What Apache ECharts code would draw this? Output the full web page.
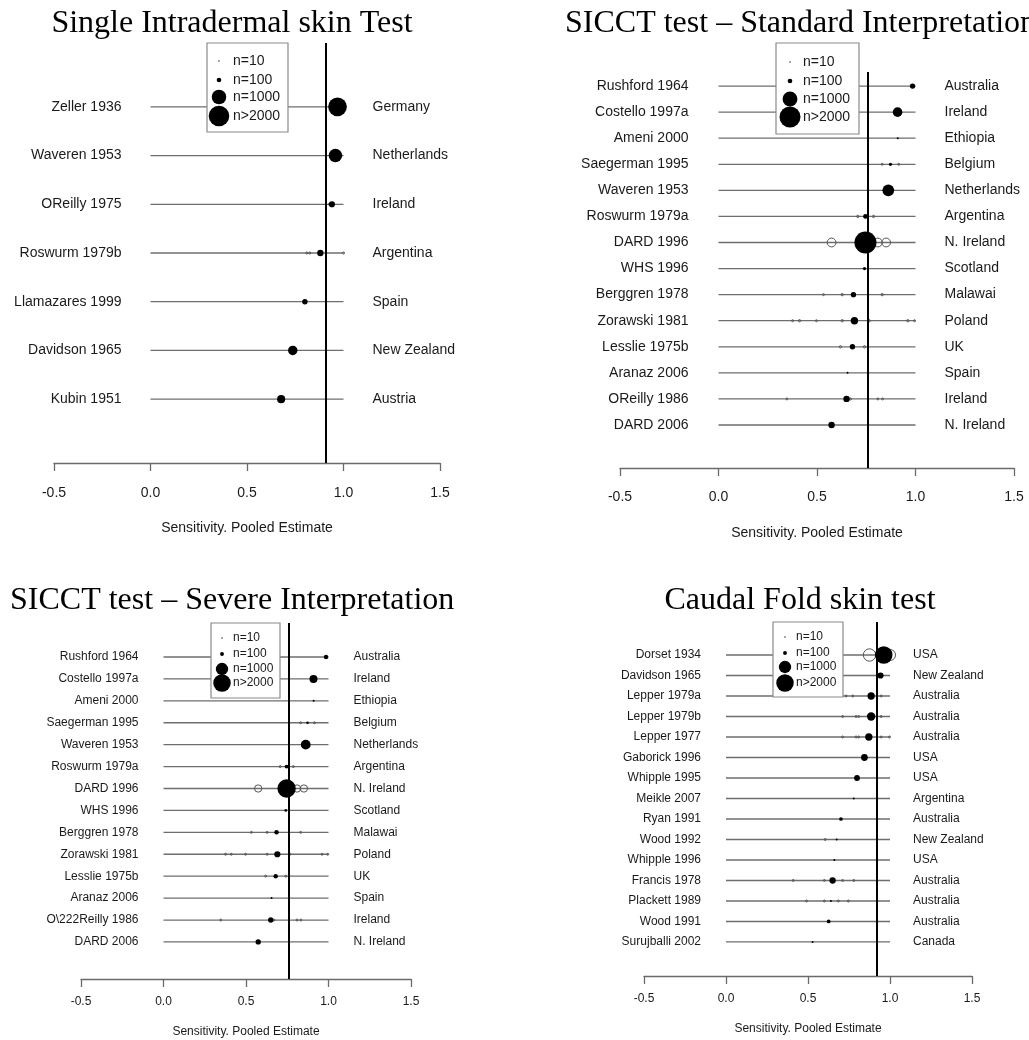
<!DOCTYPE html>
<html><head><meta charset="utf-8">
<script src="https://cdn.jsdelivr.net/npm/echarts@6/dist/echarts.min.js"></script>
<style>html,body{margin:0;padding:0;background:#fff}#c{width:1029px;height:1040px}</style>
</head><body><div id="c"></div>
<script>
// ---------------- DATA ----------------
const tickLabels = ['-0.5', '0.0', '0.5', '1.0', '1.5'];
const axisTitle = 'Sensitivity. Pooled Estimate';
const legendLabels = ['n=10', 'n=100', 'n=1000', 'n>2000'];
const legendN = [10, 100, 1000, 2000];

// Single Intradermal skin Test
const sitTitle = 'Single Intradermal skin Test';
const sitStudies = ['Zeller 1936', 'Waveren 1953', 'OReilly 1975', 'Roswurm 1979b', 'Llamazares 1999', 'Davidson 1965', 'Kubin 1951'];
const sitCountries = ['Germany', 'Netherlands', 'Ireland', 'Argentina', 'Spain', 'New Zealand', 'Austria'];
const sitEstimate = [0.969, 0.958, 0.94, 0.88, 0.80, 0.737, 0.677];
const sitN = [1650, 850, 180, 190, 140, 420, 310];
const sitSub = [[1, 0.985, 40], [2, 0.927, 20], [3, 0.81, 20], [3, 0.825, 20], [3, 1.0, 20]]; // [row, value, n]
const sitPooled = 0.905;

// SICCT (standard & severe)
const sicctStdTitle = 'SICCT test \u2013 Standard Interpretation';
const sicctSevTitle = 'SICCT test \u2013 Severe Interpretation';
const sicctStudies = ['Rushford 1964', 'Costello 1997a', 'Ameni 2000', 'Saegerman 1995', 'Waveren 1953', 'Roswurm 1979a', 'DARD 1996', 'WHS 1996', 'Berggren 1978', 'Zorawski 1981', 'Lesslie 1975b', 'Aranaz 2006', 'OReilly 1986', 'DARD 2006'];
const sicctSevStudies = ['Rushford 1964', 'Costello 1997a', 'Ameni 2000', 'Saegerman 1995', 'Waveren 1953', 'Roswurm 1979a', 'DARD 1996', 'WHS 1996', 'Berggren 1978', 'Zorawski 1981', 'Lesslie 1975b', 'Aranaz 2006', 'O\\222Reilly 1986', 'DARD 2006'];
const sicctCountries = ['Australia', 'Ireland', 'Ethiopia', 'Belgium', 'Netherlands', 'Argentina', 'N. Ireland', 'Scotland', 'Malawai', 'Poland', 'UK', 'Spain', 'Ireland', 'N. Ireland'];
const sicctEstimate = [0.985, 0.909, 0.91, 0.873, 0.862, 0.746, 0.746, 0.741, 0.685, 0.69, 0.68, 0.655, 0.65, 0.574];
const sicctN = [130, 420, 10, 46, 625, 100, 2200, 46, 130, 250, 130, 12, 186, 186];
const sicctSub = [
  [3, 0.831, 8], [3, 0.915, 8],
  [5, 0.707, 25], [5, 0.787, 25],
  [6, 0.574, 350], [6, 0.809, 350], [6, 0.851, 350],
  [8, 0.533, 8], [8, 0.628, 25], [8, 0.831, 25],
  [9, 0.376, 6], [9, 0.411, 25], [9, 0.497, 6], [9, 0.628, 25], [9, 0.766, 20], [9, 0.961, 25], [9, 0.995, 6],
  [10, 0.619, 25], [10, 0.741, 25],
  [12, 0.347, 10], [12, 0.67, 20], [12, 0.809, 10], [12, 0.833, 10]
];
const sicctStdPooled = 0.761;
const sicctSevPooled = 0.764;

// Caudal Fold skin test
const cfTitle = 'Caudal Fold skin test';
const cfStudies = ['Dorset 1934', 'Davidson 1965', 'Lepper 1979a', 'Lepper 1979b', 'Lepper 1977', 'Gaborick 1996', 'Whipple 1995', 'Meikle 2007', 'Ryan 1991', 'Wood 1992', 'Whipple 1996', 'Francis 1978', 'Plackett 1989', 'Wood 1991', 'Surujballi 2002'];
const cfCountries = ['USA', 'New Zealand', 'Australia', 'Australia', 'Australia', 'USA', 'USA', 'Argentina', 'Australia', 'New Zealand', 'USA', 'Australia', 'Australia', 'Australia', 'Canada'];
const cfEstimate = [0.962, 0.942, 0.885, 0.885, 0.871, 0.844, 0.799, 0.779, 0.701, 0.675, 0.661, 0.65, 0.64, 0.626, 0.528];
const cfN = [2000, 250, 350, 460, 350, 300, 220, 10, 90, 8, 8, 260, 10, 90, 10];
const cfSub = [
  [0, 0.875, 1000], [0, 1.0, 800],
  [2, 0.732, 12], [2, 0.773, 12], [2, 0.946, 15],
  [3, 0.711, 12], [3, 0.793, 15], [3, 0.809, 15], [3, 0.946, 20],
  [4, 0.711, 12], [4, 0.793, 15], [4, 0.809, 15], [4, 0.946, 15], [4, 0.997, 15],
  [9, 0.605, 6],
  [11, 0.41, 6], [11, 0.60, 15], [11, 0.711, 15], [11, 0.779, 8],
  [12, 0.491, 6], [12, 0.60, 6], [12, 0.685, 6], [12, 0.746, 6]
];
const cfPooled = 0.924;

// ---------------- LAYOUT ----------------
const SANS = 'Liberation Sans, Arial, sans-serif';
const SERIF = 'Liberation Serif, Times New Roman, serif';
const panels = [
  { title: sitTitle, tx: 232, tAlign: 'center', ty: 8,
    studies: sitStudies, countries: sitCountries, est: sitEstimate, n: sitN, sub: sitSub, pooled: sitPooled,
    grid: { left: 54, top: 43, width: 386, height: 420 }, ymin: -1.31, ymax: 7.31,
    fs: 14, gapL: 29, gapR: 29, scale: 1.0, labelMargin: 23, nameGap: 58,
    legend: { x: 207, y: 43, w: 81, h: 89, items: [61, 80, 97, 116], dx: 219, tx: 233 } },
  { title: sicctStdTitle, tx: 565, tAlign: 'left', ty: 8,
    studies: sicctStudies, countries: sicctCountries, est: sicctEstimate, n: sicctN, sub: sicctSub, pooled: sicctStdPooled,
    grid: { left: 620, top: 72, width: 394, height: 396 }, ymin: -0.54, ymax: 14.65,
    fs: 14, gapL: 30, gapR: 29, scale: 1.02, labelMargin: 22, nameGap: 58,
    legend: { x: 776, y: 43, w: 83, h: 91, items: [62, 81, 99, 117], dx: 790, tx: 803 } },
  { title: sicctSevTitle, tx: 10, tAlign: 'left', ty: 585,
    studies: sicctSevStudies, countries: sicctCountries, est: sicctEstimate, n: sicctN, sub: sicctSub, pooled: sicctSevPooled,
    grid: { left: 81, top: 623, width: 330, height: 356 }, ymin: -1.55, ymax: 14.69,
    fs: 12, gapL: 25, gapR: 25, scale: 0.85, labelMargin: 17, nameGap: 47,
    legend: { x: 211, y: 623, w: 69, h: 75, items: [638, 654, 669, 683], dx: 222, tx: 233 } },
  { title: cfTitle, tx: 800, tAlign: 'center', ty: 585,
    studies: cfStudies, countries: cfCountries, est: cfEstimate, n: cfN, sub: cfSub, pooled: cfPooled,
    grid: { left: 644, top: 622, width: 328, height: 354 }, ymin: -1.61, ymax: 15.66,
    fs: 12, gapL: 25, gapR: 23, scale: 0.85, labelMargin: 17, nameGap: 47,
    legend: { x: 773, y: 622, w: 70, h: 75, items: [637, 653, 667, 683], dx: 785, tx: 796 } }
];

const dia = (n, s) => Math.max(2, 0.46 * Math.sqrt(n) * s);

const option = { animation: false, backgroundColor: '#fff', title: [], grid: [], xAxis: [], yAxis: [], series: [], graphic: [] };

panels.forEach((p, k) => {
  option.title.push({ text: p.title, left: p.tx, top: p.ty, textAlign: p.tAlign, padding: 0,
    textStyle: { fontFamily: SERIF, fontSize: 32, fontWeight: 'normal', color: '#000' } });
  option.grid.push(Object.assign({ containLabel: false }, p.grid));
  option.xAxis.push({
    gridIndex: k, type: 'value', min: -0.5, max: 1.5, interval: 0.5,
    axisLine: { show: true, onZero: false, lineStyle: { color: '#6a6a6a', width: 1.3 } },
    axisTick: { show: true, length: 8, lineStyle: { color: '#6a6a6a', width: 1.3 } },
    axisLabel: { margin: p.labelMargin, fontSize: p.fs, fontFamily: SANS, color: '#1a1a1a',
      formatter: (v, i) => tickLabels[i] },
    splitLine: { show: false },
    name: axisTitle, nameLocation: 'middle', nameGap: p.nameGap,
    nameTextStyle: { fontSize: p.fs, fontFamily: SANS, color: '#1a1a1a' }
  });
  option.yAxis.push({ gridIndex: k, type: 'value', inverse: true, min: p.ymin, max: p.ymax, show: false,
    axisLine: { onZero: false } });

  const studies = p.studies, countries = p.countries, fs = p.fs, gl = p.gapL, gr = p.gapR;
  option.series.push({
    type: 'custom', xAxisIndex: k, yAxisIndex: k, z: 1, silent: true,
    data: studies.map((s, i) => [0, i]),
    encode: { x: 0, y: 1 },
    renderItem: (params, api) => {
      const r = api.value(1);
      const a = api.coord([0, r]), b = api.coord([1, r]);
      return { type: 'group', children: [
        { type: 'line', shape: { x1: a[0], y1: a[1], x2: b[0], y2: b[1] }, style: { stroke: '#6e6e6e', lineWidth: 1.3 } },
        { type: 'text', style: { text: studies[params.dataIndex], x: a[0] - gl, y: a[1], align: 'right', verticalAlign: 'middle',
          fontSize: fs, fontFamily: SANS, fill: '#1a1a1a' } },
        { type: 'text', style: { text: countries[params.dataIndex], x: b[0] + gr, y: b[1], align: 'left', verticalAlign: 'middle',
          fontSize: fs, fontFamily: SANS, fill: '#1a1a1a' } }
      ] };
    }
  });
  option.series.push({
    type: 'scatter', xAxisIndex: k, yAxisIndex: k, z: 2, silent: true,
    data: p.sub.map(d => [d[1], d[0], d[2]]),
    symbol: 'circle', symbolSize: v => dia(v[2], p.scale),
    itemStyle: { color: 'rgba(255,255,255,0)', borderColor: '#555', borderWidth: 1, opacity: 1 }
  });
  option.series.push({
    type: 'scatter', xAxisIndex: k, yAxisIndex: k, z: 3, silent: true,
    data: p.est.map((v, i) => [v, i, p.n[i]]),
    symbol: 'circle', symbolSize: v => dia(v[2], p.scale),
    itemStyle: { color: '#000', opacity: 1 },
    markLine: { silent: true, symbol: 'none', label: { show: false }, animation: false,
      lineStyle: { color: '#000', width: 2, type: 'solid' }, data: [{ xAxis: p.pooled }] }
  });

  const L = p.legend;
  option.graphic.push({ type: 'rect', z: 100, shape: { x: L.x, y: L.y, width: L.w, height: L.h },
    style: { fill: '#fff', stroke: '#8a8a8a', lineWidth: 1.2 } });
  legendN.forEach((n, j) => {
    option.graphic.push({ type: 'circle', z: 101, shape: { cx: L.dx, cy: L.items[j], r: (j === 0 ? 1.3 : dia(n, p.scale)) / 2 }, style: { fill: '#000' } });
    option.graphic.push({ type: 'text', z: 101, x: L.tx, y: L.items[j],
      style: { text: legendLabels[j], fontSize: p.fs, fontFamily: SANS, fill: '#1a1a1a', align: 'left', verticalAlign: 'middle' } });
  });
});

const chart = echarts.init(document.getElementById('c'), null, { renderer: 'canvas' });
chart.setOption(option);
</script>
</body></html>
